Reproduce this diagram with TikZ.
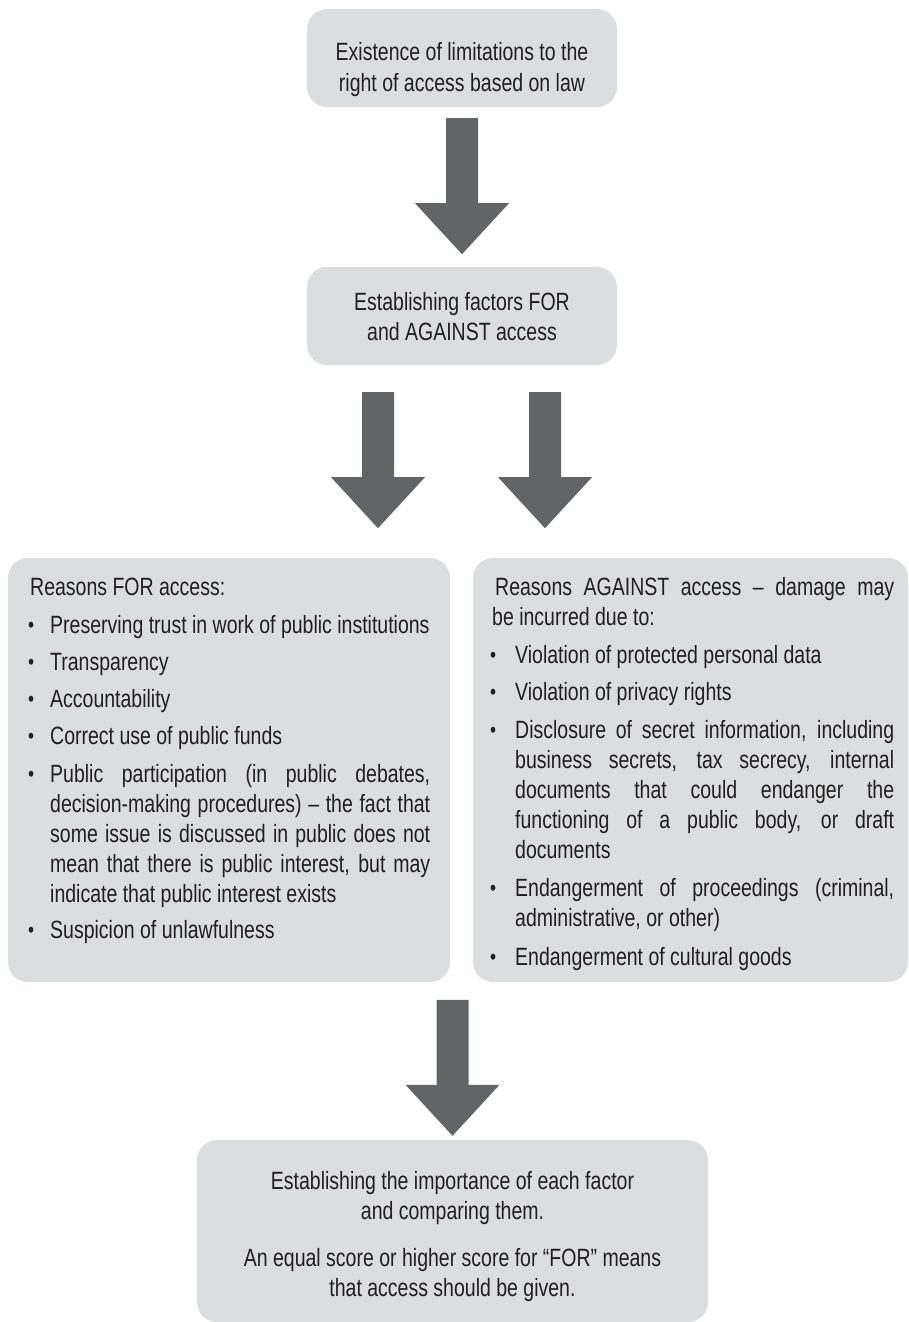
\documentclass[tikz,border=0pt]{standalone}
\usepackage{fontspec}
\setmainfont{Liberation Sans}[FakeStretch=0.78]
\usetikzlibrary{calc}
\definecolor{boxgray}{HTML}{DCDDDE}
\definecolor{arrowgray}{HTML}{636466}
\definecolor{textdark}{HTML}{231F20}
\tikzset{
  box/.style={shape=rectangle, fill=boxgray, draw=none, rounded corners=20pt, inner sep=0pt},
  txt/.style={inner sep=0pt, text=textdark, font=\fontsize{25}{30}\selectfont},
  blockarrow/.style={fill=arrowgray, draw=none}
}
\newcommand\blockarrowat[1]{\fill[blockarrow] (#1) ++(-16,0) -- ++(0,85) -- ++(-31,0) -- ++(47,51) -- ++(47,-51) -- ++(-31,0) -- ++(0,-85) -- cycle;}
\newcommand\bul{\raisebox{1pt}{\fontsize{22}{30}\selectfont\textbullet}}
\begin{document}
\begin{tikzpicture}[x=1pt,y=-1pt]
\useasboundingbox (0,0) rectangle (909,1322);
% boxes
\node[box, minimum width=310pt, minimum height=98pt] (b1) at (462,58) {};
\node[box, minimum width=310pt, minimum height=98pt] (b2) at (462,316) {};
\node[box, minimum width=442pt, minimum height=424pt] (bfor) at (229,770) {};
\node[box, minimum width=435pt, minimum height=424pt] (bagainst) at (690.5,770) {};
\node[box, minimum width=511pt, minimum height=182pt] (b5) at (452.5,1231) {};
% texts
\node[txt, anchor=base] (t1) at (462,61) {\parbox[t]{300pt}{\centering Existence of limitations to the\\right of access based on law}};
\node[txt, anchor=base] (t2) at (462,310) {\parbox[t]{300pt}{\centering Establishing factors FOR\\and AGAINST access}};
\node[txt, anchor=base west] (tfor) at (28,595) {\parbox[t]{440pt}{%
\hspace*{2pt}Reasons FOR access:\\[8pt]
\makebox[22pt][l]{\bul}Preserving trust in work of public institutions\\[7pt]
\makebox[22pt][l]{\bul}Transparency\\[7pt]
\makebox[22pt][l]{\bul}Accountability\\[7pt]
\makebox[22pt][l]{\bul}Correct use of public funds\\[8pt]
\makebox[22pt][l]{\bul}\makebox[380pt][s]{Public participation (in public debates,}\\
\hspace*{22pt}\makebox[380pt][s]{decision-making procedures) – the fact that}\\
\hspace*{22pt}\makebox[380pt][s]{some issue is discussed in public does not}\\
\hspace*{22pt}\makebox[380pt][s]{mean that there is public interest, but may}\\
\hspace*{22pt}indicate that public interest exists\\[6pt]
\makebox[22pt][l]{\bul}Suspicion of unlawfulness}};
\node[txt, anchor=base west] (tagainst) at (490,595) {\parbox[t]{440pt}{%
\hspace*{5pt}\makebox[399pt][s]{Reasons AGAINST access – damage may}\\
\hspace*{2pt}be incurred due to:\\[8pt]
\makebox[25pt][l]{\bul}Violation of protected personal data\\[7pt]
\makebox[25pt][l]{\bul}Violation of privacy rights\\[8pt]
\makebox[25pt][l]{\bul}\makebox[379pt][s]{Disclosure of secret information, including}\\
\hspace*{25pt}\makebox[379pt][s]{business secrets, tax secrecy, internal}\\
\hspace*{25pt}\makebox[379pt][s]{documents that could endanger the}\\
\hspace*{25pt}\makebox[379pt][s]{functioning of a public body, or draft}\\
\hspace*{25pt}documents\\[8pt]
\makebox[25pt][l]{\bul}\makebox[379pt][s]{Endangerment of proceedings (criminal,}\\
\hspace*{25pt}administrative, or other)\\[9pt]
\makebox[25pt][l]{\bul}Endangerment of cultural goods}};
\node[txt, anchor=base] (t5) at (452.5,1189) {\parbox[t]{500pt}{\centering Establishing the importance of each factor\\and comparing them.\\[17pt]An equal score or higher score for “FOR” means\\that access should be given.}};
% arrows
\coordinate (a1) at ($(b1.south)+(0,11)$);
\coordinate (a2l) at ($(b2.south)+(-84,27)$);
\coordinate (a2r) at ($(b2.south)+(83,27)$);
\coordinate (a3) at ($(b5.north)+(0,-140)$);
\blockarrowat{a1}
\blockarrowat{a2l}
\blockarrowat{a2r}
\blockarrowat{a3}
\end{tikzpicture}
\end{document}
